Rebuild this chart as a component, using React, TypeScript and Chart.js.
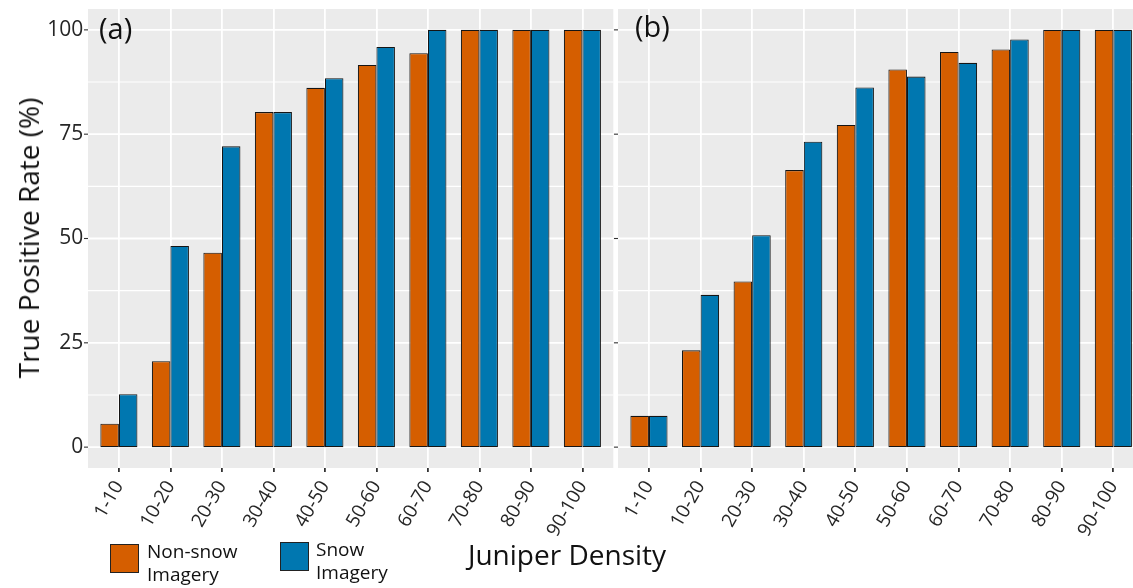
import React, { useEffect, useRef } from "react";
import { Chart, registerables } from "chart.js";

Chart.register(...registerables);

// ---------------- data ----------------
const categories = ["1-10", "10-20", "20-30", "30-40", "40-50", "50-60", "60-70", "70-80", "80-90", "90-100"];
const nonSnowA = [5.6, 20.6, 46.6, 80.3, 86.1, 91.6, 94.4, 100, 100, 100];
const snowA = [12.7, 48.2, 72.1, 80.3, 88.4, 95.9, 100, 100, 100, 100];
const nonSnowB = [7.5, 23.2, 39.7, 66.4, 77.2, 90.5, 94.7, 95.3, 100, 100];
const snowB = [7.5, 36.5, 50.8, 73.2, 86.2, 88.8, 92.1, 97.7, 100, 100];
const yTickValues = [0, 25, 50, 75, 100];
const seriesNames = ["Non-snow Imagery", "Snow Imagery"];
const panelLabels = ["(a)", "(b)"];
const xTitle = "Juniper Density";
const yTitle = "True Positive Rate (%)";

// ---------------- styles / layout ----------------
const ORANGE = "#D55E00";
const BLUE = "#0077B0";
const PANEL_BG = "#EBEBEB";
const FONT = "'Open Sans', 'Noto Sans', sans-serif";
const W = 1133;
const H = 588;
const PANEL_TOP = 9;
const PANEL_BOTTOM = 468;

const panelPlugin = {
  id: "ggPanel",
  beforeDraw(chart: any) {
    const { ctx, chartArea } = chart;
    const xs = chart.scales.x;
    const ys = chart.scales.y;
    const band = xs.getPixelForValue(1) - xs.getPixelForValue(0);
    const ext = band * 0.1;
    const left = chartArea.left - ext;
    const right = chartArea.right + ext;
    ctx.save();
    ctx.fillStyle = PANEL_BG;
    ctx.fillRect(left, chartArea.top, right - left, chartArea.bottom - chartArea.top);
    for (let i = 0; i < yTickValues.length; i++) {
      const v = yTickValues[i];
      const y = ys.getPixelForValue(v);
      ctx.strokeStyle = "#FFFFFF";
      ctx.lineWidth = 1.8;
      ctx.beginPath();
      ctx.moveTo(left, y);
      ctx.lineTo(right, y);
      ctx.stroke();
      if (i < yTickValues.length - 1) {
        const ym = ys.getPixelForValue((v + yTickValues[i + 1]) / 2);
        ctx.lineWidth = 1.2;
        ctx.beginPath();
        ctx.moveTo(left, ym);
        ctx.lineTo(right, ym);
        ctx.stroke();
      }
      ctx.strokeStyle = "#333333";
      ctx.lineWidth = 1.1;
      ctx.beginPath();
      ctx.moveTo(left - 4, y);
      ctx.lineTo(left, y);
      ctx.stroke();
    }
    ctx.restore();
  },
};

function makeConfig(nonSnow: number[], snow: number[], yAxisWidth: number, padRight: number, showYLabels: boolean) {
  const barStyle = {
    borderColor: "#151515",
    borderWidth: 1.1,
    borderSkipped: false,
    categoryPercentage: 0.72,
    barPercentage: 1,
  };
  return {
    type: "bar" as const,
    data: {
      labels: categories,
      datasets: [
        { label: seriesNames[0], data: nonSnow, backgroundColor: ORANGE, ...barStyle },
        { label: seriesNames[1], data: snow, backgroundColor: BLUE, ...barStyle },
      ],
    },
    options: {
      responsive: false,
      maintainAspectRatio: false,
      animation: false,
      devicePixelRatio: 1,
      layout: { padding: { top: PANEL_TOP, right: padRight, left: 0, bottom: 0 } },
      plugins: { legend: { display: false }, tooltip: { enabled: false }, title: { display: false } },
      scales: {
        x: {
          type: "category",
          offset: true,
          border: { display: false },
          grid: {
            offset: false,
            color: "#FFFFFF",
            lineWidth: 1.8,
            tickColor: "#333333",
            tickLength: 4,
            drawTicks: true,
          },
          ticks: {
            minRotation: 60,
            maxRotation: 60,
            autoSkip: false,
            padding: 5,
            color: "#262626",
            font: { family: FONT, size: 19 },
          },
          afterFit: (scale: any) => {
            scale.height = H - PANEL_BOTTOM;
            scale.paddingLeft = 0;
            scale.paddingRight = 0;
          },
        },
        y: {
          type: "linear",
          min: -5,
          max: 105,
          border: { display: false },
          grid: { display: false, drawTicks: false },
          ticks: {
            display: showYLabels,
            stepSize: 25,
            includeBounds: false,
            padding: 10,
            color: "#262626",
            font: { family: FONT, size: 21 },
          },
          afterFit: (scale: any) => {
            scale.width = yAxisWidth;
            scale.paddingTop = 0;
            scale.paddingBottom = 0;
          },
        },
      },
    },
    plugins: [panelPlugin],
  };
}

// panel geometry
const A_LEFT = 88;
const A_BAND = 51.5;
const A_RIGHT = A_LEFT + A_BAND * 10.2;
const B_CANVAS_LEFT = 613;
const B_LEFT = 618;
const B_BAND = 51.6;
const B_RIGHT = B_LEFT + B_BAND * 10.2;
const A_CANVAS_W = Math.ceil(A_RIGHT);
const B_CANVAS_W = Math.ceil(B_RIGHT - B_CANVAS_LEFT);

export default function App() {
  const refA = useRef<HTMLCanvasElement>(null);
  const refB = useRef<HTMLCanvasElement>(null);

  useEffect(() => {
    const cfgA: any = makeConfig(nonSnowA, snowA, A_LEFT + A_BAND * 0.1, A_CANVAS_W - A_RIGHT + A_BAND * 0.1, true);
    const cfgB: any = makeConfig(
      nonSnowB,
      snowB,
      B_LEFT - B_CANVAS_LEFT + B_BAND * 0.1,
      B_CANVAS_LEFT + B_CANVAS_W - B_RIGHT + B_BAND * 0.1,
      false
    );
    const a = new Chart(refA.current as HTMLCanvasElement, cfgA);
    const b = new Chart(refB.current as HTMLCanvasElement, cfgB);
    return () => {
      a.destroy();
      b.destroy();
    };
  }, []);

  const txt: React.CSSProperties = { position: "absolute", fontFamily: FONT, color: "#111", whiteSpace: "nowrap", lineHeight: 1 };

  return (
    <div style={{ position: "fixed", left: 0, top: 0, width: W, height: H, overflow: "hidden", background: "#fff" }}>
      <canvas ref={refA} width={A_CANVAS_W} height={H} style={{ position: "absolute", left: 0, top: 0, width: A_CANVAS_W, height: H }} />
      <canvas
        ref={refB}
        width={B_CANVAS_W}
        height={H}
        style={{ position: "absolute", left: B_CANVAS_LEFT, top: 0, width: B_CANVAS_W, height: H }}
      />
      <div style={{ ...txt, left: 99, top: 13, fontSize: 29 }}>{panelLabels[0]}</div>
      <div style={{ ...txt, left: 635, top: 11, fontSize: 29 }}>{panelLabels[1]}</div>
      <div
        style={{
          ...txt,
          left: 28,
          top: 238,
          fontSize: 28,
          transform: "translate(-50%, -50%) rotate(-90deg)",
        }}
      >
        {yTitle}
      </div>
      <div style={{ ...txt, left: 567, top: 540, fontSize: 28, transform: "translateX(-50%)" }}>{xTitle}</div>
      {/* legend */}
      <div style={{ position: "absolute", left: 110, top: 544, width: 29, height: 29, background: ORANGE, border: "1.5px solid #222", boxSizing: "border-box" }} />
      <div style={{ ...txt, left: 147, top: 540, fontSize: 19, lineHeight: "23px", whiteSpace: "normal", width: 100 }}>
        Non-snow
        <br />
        Imagery
      </div>
      <div style={{ position: "absolute", left: 280, top: 542, width: 29, height: 29, background: BLUE, border: "1.5px solid #222", boxSizing: "border-box" }} />
      <div style={{ ...txt, left: 316, top: 538, fontSize: 19, lineHeight: "23px", whiteSpace: "normal", width: 100 }}>
        Snow
        <br />
        Imagery
      </div>
    </div>
  );
}
